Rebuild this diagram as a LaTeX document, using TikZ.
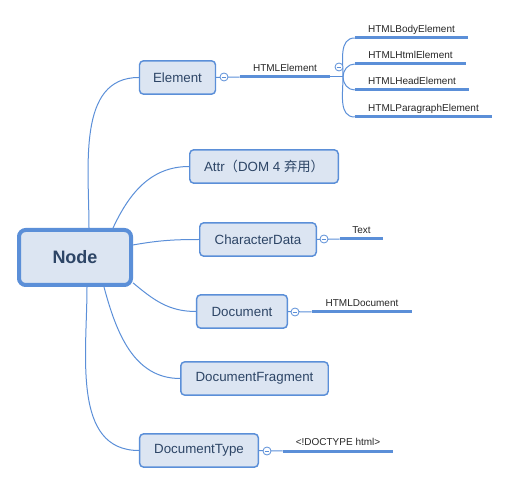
\documentclass[tikz,border=0pt]{standalone}
\usepackage{fontspec}
\setmainfont{Liberation Sans}
\newfontfamily\cjk{Noto Sans CJK SC}
\usepackage{tikz}

\definecolor{mapblue}{HTML}{5B8FD8}
\definecolor{mapfill}{HTML}{DCE5F2}
\definecolor{maptext}{HTML}{2D4566}

\begin{document}
\begin{tikzpicture}[
                    x=0.75pt, y=-0.75pt,
                    root/.style={
                        draw=mapblue,
                        fill=mapfill,
                        line width=3pt,
                        rounded corners=5pt,
                        minimum width=84pt,
                        minimum height=41.25pt,
                        text=maptext,
                        font=\fontsize{13.5}{16}\selectfont\bfseries
                    },
                    branch/.style={
                        draw=mapblue,
                        fill=mapfill,
                        line width=1.1pt,
                        rounded corners=3pt,
                        minimum height=25pt,
                        text=maptext,
                        font=\fontsize{10}{12}\selectfont
                    },
                    leaf/.style={
                        anchor=south,
                        inner ysep=2.5pt,
                        text height=6pt,
                        text depth=1.5pt,
                        text=black!85,
                        font=\fontsize{7.5}{9}\selectfont
                    },
                    leafline/.style={draw=mapblue, line width=2.25pt},
                    link/.style={draw=mapblue, line width=0.75pt},
                    fold/.style={
                        circle,
                        draw=mapblue,
                        fill=white,
                        line width=0.6pt,
                        inner sep=0pt,
                        minimum size=6pt,
                        path picture={
                            \draw[mapblue, line width=0.6pt]
                                ([xshift=-1.7pt]path picture bounding box.center) --
                                ([xshift=1.7pt]path picture bounding box.center);
                        }
                    }
                ]
                    \useasboundingbox (0,0) rectangle (510,484);

                    \node[root] (node) at (75,257.5) {Node};
                    \node[branch, minimum width=57pt] (element) at (177.5,77.5) {Element};
                    \node[branch, minimum width=111.4pt] (attr) at (264,166.5) {Attr{\cjk（}DOM 4 {\cjk 弃用）}};
                    \node[branch, minimum width=87.4pt] (chardata) at (258,239.5) {CharacterData};
                    \node[branch, minimum width=68pt] (document) at (242,311.5) {Document};
                    \node[branch, minimum width=110.6pt] (fragment) at (254.5,378.5) {DocumentFragment};
                    \node[branch, minimum width=89pt] (doctype) at (199,450.5) {DocumentType};

                    % Leaves
                    \node[leaf, minimum width=67.5pt] (htmlel) at (285,77) {HTMLElement};
                    \node[leaf, minimum width=84.75pt] (body) at (411.5,38) {HTMLBodyElement};
                    \node[leaf, minimum width=83.25pt] (html) at (410.5,64) {HTMLHtmlElement};
                    \node[leaf, minimum width=85.5pt] (head) at (412,90) {HTMLHeadElement};
                    \node[leaf, minimum width=102.75pt] (para) at (423.5,117) {HTMLParagraphElement};
                    \node[leaf, minimum width=32.25pt] (text) at (361.5,239) {Text};
                    \node[leaf, minimum width=75pt] (htmldoc) at (362,312) {HTMLDocument};
                    \node[leaf, minimum width=82.5pt] (dtleaf) at (338,451) {<!DOCTYPE html>};

                    \foreach \n in {htmlel,body,html,head,para,text,htmldoc,dtleaf}
                        \draw[leafline] (\n.south west) -- (\n.south east);

                    \coordinate (fork) at (343,77);

                    % Edges
                    \draw[link] ([xshift=10.5pt]node.north) to[out=90, in=180] (element.west);
                    \draw[link] ([xshift=28.5pt]node.north) to[out=65, in=180] (attr.west);
                    \draw[link] ([yshift=9.4pt]node.east) to[out=10, in=180] (chardata.west);
                    \draw[link] ([yshift=-19pt]node.east) to[out=-40, in=180] (document.west);
                    \draw[link] ([xshift=21.75pt]node.south) to[out=-75, in=180] (fragment.west);
                    \draw[link] ([xshift=9pt]node.south) to[out=-90, in=180] (doctype.west);

                    \draw[link] (element.east) -- (htmlel.south west);
                    \draw[link] (htmlel.south east) -- (fork);
                    \draw[link] (fork) to[out=90, in=180] (body.south west);
                    \draw[link] (fork) to[out=90, in=180] (html.south west);
                    \draw[link] (fork) to[out=-90, in=180] (head.south west);
                    \draw[link] (fork) to[out=-90, in=180] (para.south west);
                    \draw[link] (chardata.east) -- (text.south west);
                    \draw[link] (document.east) -- (htmldoc.south west);
                    \draw[link] (doctype.east) -- (dtleaf.south west);

                    % Fold buttons
                    \node[fold] (elfold) at (224,77) {};
                    \node[fold] (htmlfold) at (339,67) {};
                    \node[fold] (cdfold) at (324,239) {};
                    \node[fold] (docfold) at (295,312) {};
                    \node[fold] (dtfold) at (267,451) {};
                \end{tikzpicture}
\end{document}
